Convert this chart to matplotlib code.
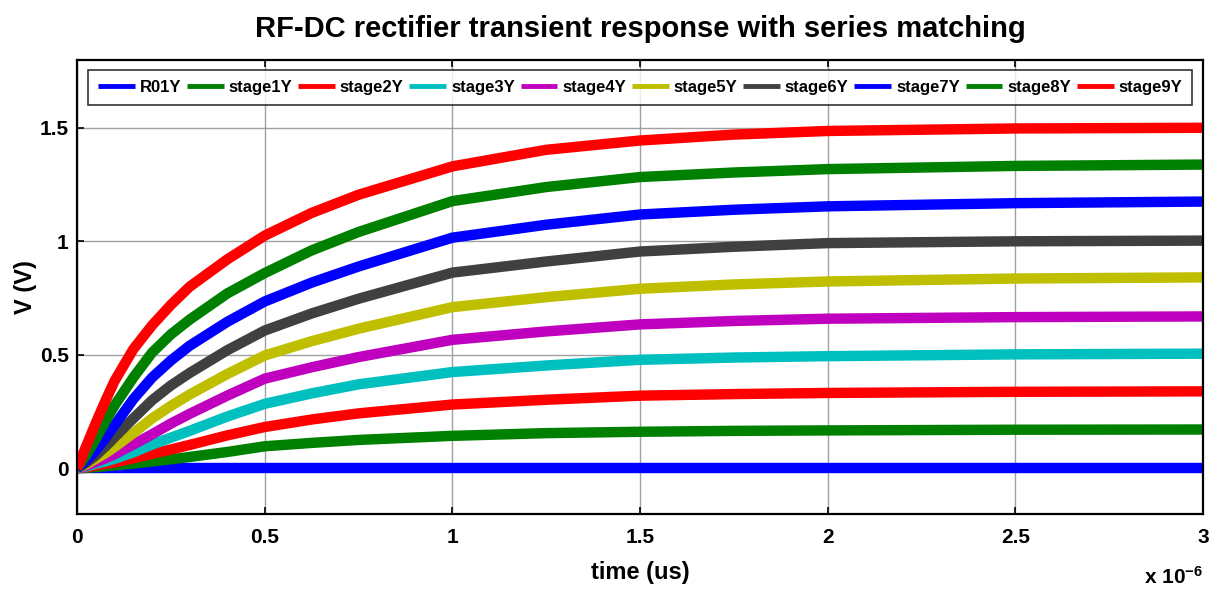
import numpy as np
import matplotlib
matplotlib.use('Agg')
import matplotlib.pyplot as plt

plt.rcParams['font.family'] = ['Liberation Sans', 'DejaVu Sans']
plt.rcParams['font.weight'] = 'bold'
plt.rcParams['mathtext.fontset'] = 'custom'
plt.rcParams['mathtext.rm'] = 'Liberation Sans:bold'
plt.rcParams['mathtext.bf'] = 'Liberation Sans:bold'
plt.rcParams['mathtext.default'] = 'bf'

# time axis in microseconds (labelled with x 10^-6 s)
t_us = [0, 0.025, 0.05, 0.075, 0.1, 0.15, 0.2, 0.25, 0.3, 0.4, 0.5, 0.625,
        0.75, 1.0, 1.25, 1.5, 1.75, 2.0, 2.5, 3.0]

r01y   = [0] * 20
stage1 = [0, 0.002, 0.005, 0.009, 0.013, 0.021, 0.030, 0.040, 0.050, 0.072, 0.097, 0.112,
          0.125, 0.143, 0.155, 0.161, 0.165, 0.167, 0.170, 0.171]
stage2 = [0, 0.005, 0.012, 0.019, 0.026, 0.044, 0.064, 0.083, 0.103, 0.145, 0.182, 0.215,
          0.242, 0.281, 0.302, 0.320, 0.327, 0.332, 0.337, 0.339]
stage3 = [0, 0.008, 0.020, 0.030, 0.042, 0.070, 0.105, 0.135, 0.165, 0.228, 0.284, 0.330,
          0.370, 0.424, 0.453, 0.478, 0.488, 0.494, 0.502, 0.505]
stage4 = [0, 0.012, 0.028, 0.044, 0.062, 0.105, 0.150, 0.197, 0.240, 0.320, 0.395, 0.445,
          0.490, 0.566, 0.603, 0.634, 0.649, 0.659, 0.666, 0.669]
stage5 = [0, 0.018, 0.042, 0.066, 0.094, 0.155, 0.220, 0.275, 0.325, 0.415, 0.497, 0.560,
          0.615, 0.710, 0.754, 0.791, 0.810, 0.823, 0.836, 0.841]
stage6 = [0, 0.025, 0.057, 0.095, 0.137, 0.220, 0.300, 0.365, 0.420, 0.520, 0.607, 0.682,
          0.747, 0.862, 0.911, 0.955, 0.976, 0.992, 1.000, 1.003]
stage7 = [0, 0.035, 0.079, 0.132, 0.190, 0.305, 0.400, 0.475, 0.540, 0.645, 0.735, 0.818,
          0.889, 1.016, 1.073, 1.118, 1.139, 1.154, 1.168, 1.175]
stage8 = [0, 0.060, 0.130, 0.205, 0.277, 0.400, 0.510, 0.590, 0.655, 0.770, 0.860, 0.960,
          1.041, 1.177, 1.239, 1.283, 1.303, 1.318, 1.332, 1.338]
stage9 = [0, 0.100, 0.200, 0.295, 0.385, 0.525, 0.630, 0.720, 0.800, 0.920, 1.025, 1.125,
          1.205, 1.330, 1.403, 1.444, 1.470, 1.486, 1.497, 1.500]

names = ['R01Y', 'stage1Y', 'stage2Y', 'stage3Y', 'stage4Y',
         'stage5Y', 'stage6Y', 'stage7Y', 'stage8Y', 'stage9Y']
series = [r01y, stage1, stage2, stage3, stage4, stage5, stage6, stage7, stage8, stage9]
colors = [(0, 0, 1), (0, 0.5, 0), (1, 0, 0), (0, 0.75, 0.75), (0.75, 0, 0.75),
          (0.75, 0.75, 0), (0.25, 0.25, 0.25), (0, 0, 1), (0, 0.5, 0), (1, 0, 0)]

xticks = [0, 0.5, 1, 1.5, 2, 2.5, 3]
yticks = [0, 0.5, 1, 1.5]

fig = plt.figure(figsize=(12.25, 5.95), dpi=100)
ax = fig.add_axes([0.0629, 0.1366, 0.9192, 0.7631])

for name, vals, col in zip(names, series, colors):
    ax.plot(t_us, vals, color=col, lw=7.5, label=name,
            solid_capstyle='butt', solid_joinstyle='round')

ax.set_xlim(0, 3)
ax.set_ylim(-0.2, 1.8)
ax.set_xticks(xticks)
ax.set_xticklabels([f'{v:g}' for v in xticks])
ax.set_yticks(yticks)
ax.set_yticklabels([f'{v:g}' for v in yticks])
ax.grid(True, color='#a0a0a0', lw=1.0)
ax.set_axisbelow(True)
ax.tick_params(direction='in', length=5, width=1.2, top=True, right=True,
               labelsize=15)
ax.tick_params(axis='x', pad=10)
ax.tick_params(axis='y', pad=6)
for s in ax.spines.values():
    s.set_linewidth(1.6)

ax.set_title('RF-DC rectifier transient response with series matching',
             fontsize=21, fontweight='bold', pad=16)
ax.set_xlabel('time (us)', fontsize=17, fontweight='bold', labelpad=10)
ax.set_ylabel('V (V)', fontsize=17, fontweight='bold')
ax.yaxis.set_label_coords(-0.036, 0.5)
ax.text(1.0, -0.14, r'x 10$^{-6}$', transform=ax.transAxes,
        ha='right', va='center', fontsize=15, fontweight='bold')

leg = ax.legend(loc='upper center', bbox_to_anchor=(0.5, 0.978), ncol=10,
                fontsize=12, frameon=True, fancybox=False, edgecolor='black',
                handlelength=2.2, handletextpad=0.3, columnspacing=0.35,
                borderpad=0.6, borderaxespad=0)
leg.get_frame().set_linewidth(1.2)
for line in leg.get_lines():
    line.set_linewidth(3.5)

fig.savefig('out.png', dpi=100)
